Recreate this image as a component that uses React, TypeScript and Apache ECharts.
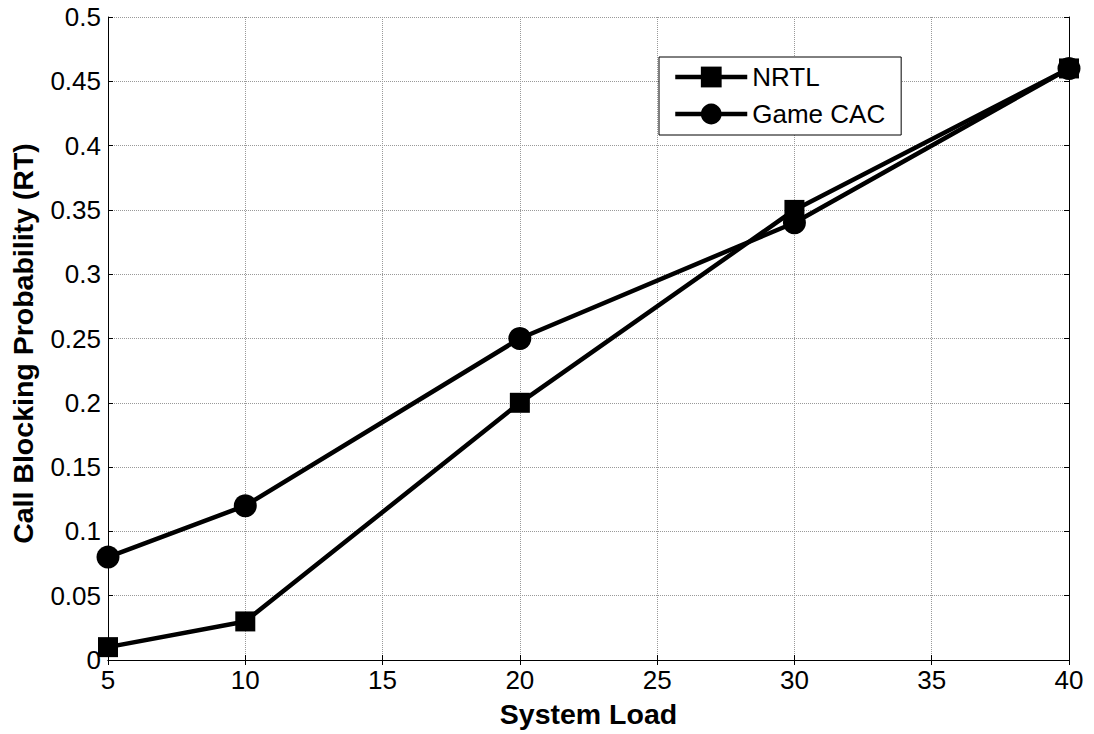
import React, { useEffect, useRef } from "react";
import * as echarts from "echarts";

const xValues = [5, 10, 20, 30, 40];
const nrtl = [0.01, 0.03, 0.2, 0.35, 0.46];
const gameCac = [0.08, 0.12, 0.25, 0.34, 0.46];
const seriesNames = ["NRTL", "Game CAC"];

export default function App() {
  const ref = useRef<HTMLDivElement>(null);
  useEffect(() => {
    const chart = echarts.init(ref.current!, null, { renderer: "svg" });
    const font = "Arial, 'Liberation Sans', sans-serif";
    const axisCommon = {
      axisLine: { show: true, lineStyle: { color: "#000", width: 1 } },
      axisTick: { show: true, inside: true, length: 5, lineStyle: { color: "#000" } },
    };
    chart.setOption({
      animation: false,
      backgroundColor: "#fff",
      grid: { left: 108, right: 25, top: 17, bottom: 74, show: false },
      legend: {
        show: true,
        left: 659,
        top: 57,
        orient: "vertical",
        data: seriesNames,
        itemWidth: 72,
        itemHeight: 26,
        itemGap: 11,
        padding: [7, 16, 8, 14],
        borderColor: "#000",
        borderWidth: 1,
        borderRadius: 0,
        backgroundColor: "#fff",
        lineStyle: { width: 4.5 },
        textStyle: { fontFamily: font, fontSize: 26, color: "#000" },
      },
      xAxis: [
        {
          type: "value",
          min: 5,
          max: 40,
          interval: 5,
          position: "bottom",
          ...axisCommon,
          splitLine: { show: true, lineStyle: { color: "#999", type: "dotted", width: 1 } },
          axisLabel: { fontFamily: font, fontSize: 26, color: "#000", margin: 7 },
          name: "System Load",
          nameLocation: "middle",
          nameGap: 39,
          nameTextStyle: { fontFamily: font, fontSize: 28.5, fontWeight: "bold", color: "#000" },
        },
        {
          type: "value",
          min: 5,
          max: 40,
          interval: 5,
          position: "top",
          ...axisCommon,
          splitLine: { show: false },
          axisLabel: { show: false },
        },
      ],
      yAxis: [
        {
          type: "value",
          min: 0,
          max: 0.5,
          interval: 0.05,
          position: "left",
          ...axisCommon,
          splitLine: { show: true, lineStyle: { color: "#999", type: "dotted", width: 1 } },
          axisLabel: { fontFamily: font, fontSize: 26, color: "#000", margin: 7 },
          name: "Call Blocking Probability (RT)",
          nameLocation: "middle",
          nameGap: 71,
          nameTextStyle: {
            fontFamily: font,
            fontSize: 28.5,
            fontWeight: "bold",
            color: "#000",
            padding: [0, 10, 0, 0],
          },
        },
        {
          type: "value",
          min: 0,
          max: 0.5,
          interval: 0.05,
          position: "right",
          ...axisCommon,
          splitLine: { show: false },
          axisLabel: { show: false },
        },
      ],
      series: [
        {
          name: seriesNames[0],
          type: "line",
          data: xValues.map((x, i) => [x, nrtl[i]]),
          symbol: "rect",
          symbolSize: 20,
          lineStyle: { color: "#000", width: 4.5 },
          itemStyle: { color: "#000" },
        },
        {
          name: seriesNames[1],
          type: "line",
          data: xValues.map((x, i) => [x, gameCac[i]]),
          symbol: "circle",
          symbolSize: 23,
          lineStyle: { color: "#000", width: 4.5 },
          itemStyle: { color: "#000" },
        },
      ],
    });
    return () => chart.dispose();
  }, []);
  return (
    <div
      ref={ref}
      style={{ position: "fixed", left: 0, top: 0, width: 1094, height: 734 }}
    />
  );
}
